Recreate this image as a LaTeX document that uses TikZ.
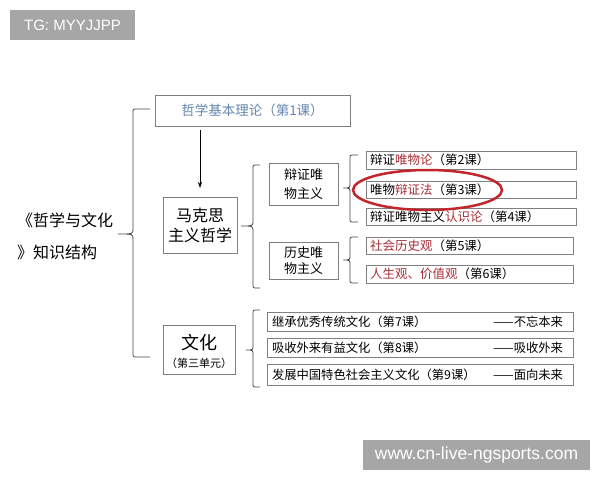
\documentclass[tikz,border=0pt]{standalone}
\usepackage{fontspec}
\setmainfont{Noto Sans CJK SC}
\newfontfamily\latinf{Liberation Sans}
\usetikzlibrary{arrows.meta}
\newcommand\fs[2]{\fontsize{#1}{#2}\selectfont}
\definecolor{boxgray}{RGB}{128,128,128}
\definecolor{bracegray}{RGB}{70,70,70}
\definecolor{topblue}{RGB}{100,135,175}
\definecolor{redtxt}{RGB}{168,45,55}
\definecolor{ringred}{RGB}{192,38,44}
\definecolor{wmgray}{RGB}{166,166,166}
\newcommand\rt[1]{\textcolor{redtxt}{#1}}
\newcommand\mybrace[6]{% xa xv xtip ytop ytip ybot
  \draw[bracestyle] (#1,#4) -- ({#2+4},#4) .. controls (#2,#4) .. (#2,{#4+4})
    -- (#2,{#5-5}) .. controls (#2,#5) .. (#3,#5)
    .. controls (#2,#5) .. (#2,{#5+5})
    -- (#2,{#6-4}) .. controls (#2,#6) .. ({#2+4},#6) -- (#1,#6);}
\begin{document}
\begin{tikzpicture}[x=1pt,y=-1pt,
  every node/.style={inner sep=0pt, outer sep=0pt},
  bx/.style={draw=boxgray, line width=0.8pt, fill=white},
  lt/.style={anchor=west, font=\fs{12.5}{14}},
  ct/.style={anchor=west, font=\fs{12.3}{14}},
  bracestyle/.style={draw=bracegray, line width=0.8pt},
  arr/.style={-{Stealth[length=6pt,width=4pt]}, line width=0.8pt, shorten <=4pt, shorten >=9pt},
  wm/.style={fill=wmgray, text=white, font=\latinf\fs{15}{15}}]
\useasboundingbox (0,0) rectangle (600,480);
\fill[white] (0,0) rectangle (600,480);

% watermarks
\node[wm, minimum width=125pt, minimum height=30pt] (tg) at (72.5,25) {TG: MYYJJPP};
\node[wm, minimum width=227pt, minimum height=30pt, font=\latinf\fs{17.5}{17.5}] (site) at (476.5,455) {www.cn-live-ngsports.com};

% title
\node[anchor=west, font=\fs{16}{16}] (t1) at (17,220) {《哲学与文化};
\node[anchor=west, font=\fs{16}{16}] (t2) at (17,252) {》知识结构};

% main boxes
\node[bx, minimum width=195pt, minimum height=31pt, text=topblue, font=\fs{13.5}{15}] (top) at (252.5,110.5) {哲学基本理论（第1课）};
\node[bx, minimum width=74pt, minimum height=56pt, align=center, font=\fs{16}{20}] (mkx) at (200,225) {马克思\\主义哲学};
\node[bx, minimum width=72pt, minimum height=49pt] (wh) at (199,349.5) {};
\node[font=\fs{18}{18}] (whA) at (199,343) {文化};
\node[font=\fs{11}{11}] (whB) at (199,363) {（第三单元）};

\draw[arr] (mkx.north |- top.south) -- (mkx.north);

% second level
\node[bx, minimum width=69pt, minimum height=42pt, align=center, font=\fs{13}{19}] (bz) at (303.5,184) {辩证唯\\物主义};
\node[bx, minimum width=69pt, minimum height=37pt, align=center, font=\fs{13}{16}] (ls) at (303.5,260.5) {历史唯\\物主义};

% lessons
\node[bx, minimum width=210pt, minimum height=18pt] (l2) at (471,160) {};
\node[lt] (l2t) at ([xshift=4pt]l2.west) {辩证\rt{唯物论}（第2课）};
\node[bx, minimum width=210pt, minimum height=17pt] (l3) at (471,189.5) {};
\node[lt] (l3t) at ([xshift=4pt]l3.west) {唯物\rt{辩证法}（第3课）};
\node[bx, minimum width=210pt, minimum height=17pt] (l4) at (471,216.5) {};
\node[lt] (l4t) at ([xshift=4pt]l4.west) {辩证唯物主义\rt{认识论}（第4课）};
\node[bx, minimum width=207pt, minimum height=17pt] (l5) at (469.5,245.5) {};
\node[lt] (l5t) at ([xshift=4pt]l5.west) {\rt{社会历史观}（第5课）};
\node[bx, minimum width=207pt, minimum height=18pt] (l6) at (469.5,274) {};
\node[lt] (l6t) at ([xshift=4pt]l6.west) {\rt{人生观、价值观}（第6课）};

% culture
\node[bx, minimum width=306pt, minimum height=19pt] (l7) at (420,321.5) {};
\node[ct] (l7t) at ([xshift=5pt]l7.west) {继承优秀传统文化（第7课）};
\node[ct, anchor=east] (l7r) at ([xshift=-10pt]l7.east) {——不忘本来};
\node[bx, minimum width=306pt, minimum height=19pt] (l8) at (420,347.5) {};
\node[ct] (l8t) at ([xshift=5pt]l8.west) {吸收外来有益文化（第8课）};
\node[ct, anchor=east] (l8r) at ([xshift=-10pt]l8.east) {——吸收外来};
\node[bx, minimum width=306pt, minimum height=21pt] (l9) at (420,375) {};
\node[ct] (l9t) at ([xshift=5pt]l9.west) {发展中国特色社会主义文化（第9课）};
\node[ct, anchor=east] (l9r) at ([xshift=-10pt]l9.east) {——面向未来};

% red ring
\draw[ringred, line width=2.5pt] (427.5,190) ellipse [x radius=74.5pt, y radius=20pt];

% braces
\mybrace{150}{133}{118}{109}{234}{357}
\mybrace{260}{253}{241}{165}{226}{288}
\mybrace{358}{350}{343}{155}{188}{222}
\mybrace{358}{350}{343}{237}{260}{283}
\mybrace{260}{253}{246}{310}{350}{387}
\end{tikzpicture}
\end{document}
